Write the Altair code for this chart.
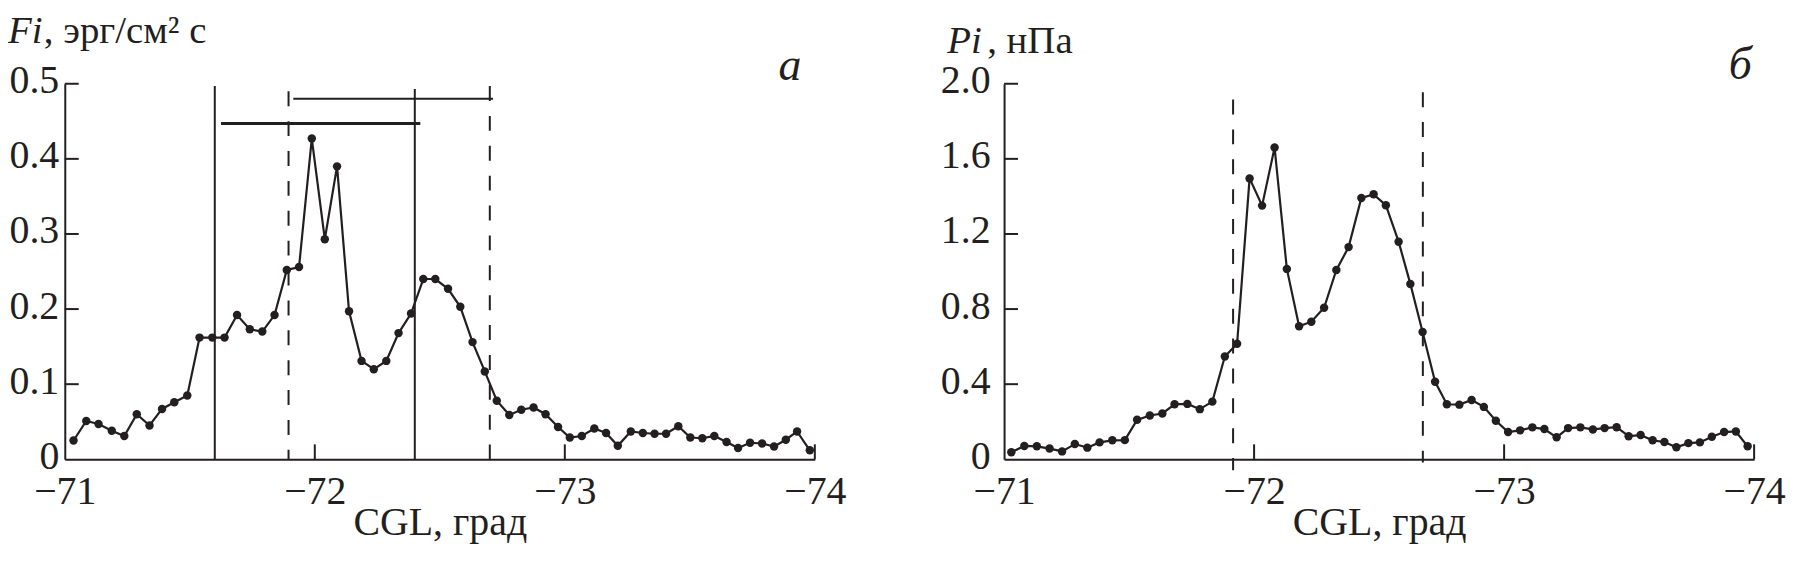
import altair as alt
import pandas as pd

# ---------------- data ----------------
fi_cgl = [-71.035, -71.086, -71.135, -71.188, -71.238, -71.288, -71.339, -71.389, -71.438, -71.490,
          -71.539, -71.590, -71.639, -71.689, -71.740, -71.790, -71.839, -71.888, -71.937, -71.988,
          -72.040, -72.089, -72.137, -72.187, -72.236, -72.286, -72.335, -72.385, -72.434, -72.482,
          -72.533, -72.582, -72.631, -72.680, -72.728, -72.778, -72.826, -72.875, -72.923, -72.973,
          -73.020, -73.068, -73.118, -73.165, -73.212, -73.264, -73.312, -73.359, -73.405, -73.454,
          -73.502, -73.550, -73.598, -73.647, -73.693, -73.741, -73.789, -73.837, -73.884, -73.929,
          -73.980]
fi_val = [0.025, 0.051, 0.047, 0.038, 0.031, 0.060, 0.045, 0.067, 0.076, 0.085,
          0.162, 0.162, 0.162, 0.192, 0.173, 0.170, 0.192, 0.252, 0.256, 0.427,
          0.293, 0.390, 0.197, 0.131, 0.120, 0.131, 0.168, 0.194, 0.240, 0.240,
          0.227, 0.203, 0.156, 0.117, 0.078, 0.059, 0.066, 0.069, 0.060, 0.043,
          0.029, 0.031, 0.041, 0.035, 0.018, 0.037, 0.035, 0.034, 0.034, 0.044,
          0.029, 0.028, 0.031, 0.023, 0.015, 0.022, 0.021, 0.017, 0.026, 0.037,
          0.012]

pi_cgl = [-71.029, -71.081, -71.131, -71.182, -71.232, -71.283, -71.333, -71.382, -71.433, -71.483,
          -71.532, -71.583, -71.633, -71.682, -71.733, -71.783, -71.833, -71.883, -71.932, -71.982,
          -72.032, -72.082, -72.131, -72.180, -72.229, -72.280, -72.329, -72.378, -72.429, -72.478,
          -72.527, -72.578, -72.625, -72.674, -72.724, -72.771, -72.821, -72.870, -72.919, -72.967,
          -73.016, -73.064, -73.113, -73.161, -73.210, -73.256, -73.305, -73.355, -73.402, -73.450,
          -73.498, -73.546, -73.594, -73.641, -73.689, -73.737, -73.783, -73.831, -73.880, -73.927,
          -73.974]
pi_val = [0.037, 0.071, 0.069, 0.057, 0.042, 0.081, 0.062, 0.090, 0.101, 0.102,
          0.210, 0.233, 0.244, 0.293, 0.295, 0.267, 0.307, 0.547, 0.615, 1.496,
          1.351, 1.660, 1.014, 0.708, 0.733, 0.807, 1.008, 1.130, 1.392, 1.411,
          1.353, 1.159, 0.934, 0.678, 0.413, 0.293, 0.291, 0.316, 0.279, 0.205,
          0.145, 0.154, 0.170, 0.161, 0.117, 0.166, 0.170, 0.159, 0.166, 0.171,
          0.123, 0.129, 0.101, 0.092, 0.064, 0.086, 0.090, 0.120, 0.145, 0.148,
          0.069]

x_ticks = [-71, -72, -73, -74]
fi_yticks = [0, 0.1, 0.2, 0.3, 0.4, 0.5]
pi_yticks = [0, 0.4, 0.8, 1.2, 1.6, 2.0]

# left panel reference lines
fi_solid_x = [-71.60, -72.40]
fi_solid_top = [0.497, 0.493]
fi_dash_x = [-71.895, -72.700]
fi_dash_top = [0.490, 0.497]
fi_thick_x1, fi_thick_x2, fi_thick_y = -71.625, -72.422, 0.447
fi_thin_x1, fi_thin_x2, fi_thin_y = -71.914, -72.713, 0.480

# right panel reference lines
pi_dash_x = [-71.916, -72.675]
pi_dash_top = [1.916, 1.955]
pi_dash_bottom = [-0.058, -0.017]

# texts
fi_title_it, fi_title_rest = "Fi", ", эрг/см² с"
pi_title_it, pi_title_rest = "Pi", ", нПа"
x_title = "CGL, град"
fi_letter, pi_letter = "а", "б"

# ---------------- styling ----------------
INK = "#231f20"
FONT = "Liberation Serif"
W, H = 753, 377


def panel(cgl, val, ymax, yticks, title_it, title_rest, it_w, title_y, letter,
          letter_x, letter_y, label_pad, extra_layers):
    df = pd.DataFrame({"cgl": cgl, "v": val})
    xs = alt.Scale(domain=[-74, -71], reverse=True, nice=False, zero=False)
    ys = alt.Scale(domain=[0, ymax], nice=False, zero=False)
    xa = alt.Axis(values=x_ticks, format="d", title=x_title, grid=False,
                  ticks=False, tickSize=0, domainColor=INK, domainWidth=2,
                  labelFont=FONT, labelFontSize=40, labelColor=INK,
                  labelFlush=False, labelOverlap=False, labelPadding=44,
                  labelBaseline="alphabetic",
                  titleFont=FONT, titleFontSize=40, titleColor=INK,
                  titleFontWeight="normal", titleBaseline="alphabetic",
                  titleY=76)
    ya = alt.Axis(values=yticks, title=None, grid=False, ticks=False, tickSize=0,
                  domainColor=INK, domainWidth=2,
                  labelExpr="datum.value == 0 ? '0' : format(datum.value, '.1f')",
                  labelFont=FONT, labelFontSize=40, labelColor=INK, labelOffset=-3,
                  labelPadding=label_pad, labelOverlap=False, labelFlush=False)

    def X(f):
        return alt.X(f, scale=xs, axis=xa, title=x_title)

    def Y(f):
        return alt.Y(f, scale=ys, axis=ya, title=None)

    base = alt.Chart(df)
    line = base.mark_line(color=INK, strokeWidth=2.2).encode(x=X("cgl:Q"), y=Y("v:Q"))
    pts = base.mark_circle(size=72, opacity=1, color=INK).encode(x=X("cgl:Q"), y=Y("v:Q"))

    ytk = alt.Chart(pd.DataFrame({"t": yticks[1:]})).mark_rule(color=INK, strokeWidth=2).encode(
        y=Y("t:Q"), x=alt.value(0), x2=alt.value(14))
    xtk = alt.Chart(pd.DataFrame({"t": x_ticks[1:]})).mark_rule(color=INK, strokeWidth=2).encode(
        x=X("t:Q"), y=alt.value(H), y2=alt.value(H - 15))

    t1 = alt.Chart(pd.DataFrame({"s": [title_it]})).mark_text(
        font=FONT, fontSize=39, fontStyle="italic", color=INK, align="left",
        baseline="alphabetic").encode(text="s:N", x=alt.value(-57), y=alt.value(title_y))
    t2 = alt.Chart(pd.DataFrame({"s": [title_rest]})).mark_text(
        font=FONT, fontSize=39, color=INK, align="left",
        baseline="alphabetic").encode(text="s:N", x=alt.value(-57 + it_w), y=alt.value(title_y))
    lt = alt.Chart(pd.DataFrame({"s": [letter]})).mark_text(
        font=FONT, fontSize=46, fontStyle="italic", color=INK, align="center",
        baseline="alphabetic").encode(text="s:N", x=alt.value(letter_x), y=alt.value(letter_y))

    layers = [line] + [l(X, Y) for l in extra_layers] + [pts, ytk, xtk, t1, t2, lt]
    return alt.layer(*layers).properties(width=W, height=H)


def fi_extras():
    def solid(X, Y):
        d = pd.DataFrame({"x": fi_solid_x, "top": fi_solid_top, "bot": [0, 0]})
        return alt.Chart(d).mark_rule(color=INK, strokeWidth=2).encode(
            x=X("x:Q"), y=Y("top:Q"), y2="bot:Q")

    def dashed(X, Y):
        d = pd.DataFrame({"x": fi_dash_x, "top": fi_dash_top, "bot": [0, 0]})
        return alt.Chart(d).mark_rule(color=INK, strokeWidth=2, strokeDash=[15, 15]).encode(
            x=X("x:Q"), y=Y("top:Q"), y2="bot:Q")

    def thick(X, Y):
        d = pd.DataFrame({"x1": [fi_thick_x1], "x2": [fi_thick_x2], "y": [fi_thick_y]})
        return alt.Chart(d).mark_rule(color=INK, strokeWidth=3).encode(
            x=X("x1:Q"), x2="x2:Q", y=Y("y:Q"))

    def thin(X, Y):
        d = pd.DataFrame({"x1": [fi_thin_x1], "x2": [fi_thin_x2], "y": [fi_thin_y]})
        return alt.Chart(d).mark_rule(color=INK, strokeWidth=2).encode(
            x=X("x1:Q"), x2="x2:Q", y=Y("y:Q"))

    return [solid, dashed, thick, thin]


def pi_extras():
    def dashed(X, Y):
        d = pd.DataFrame({"x": pi_dash_x, "top": pi_dash_top, "bot": pi_dash_bottom})
        return alt.Chart(d).mark_rule(color=INK, strokeWidth=2, strokeDash=[15, 15]).encode(
            x=X("x:Q"), y=Y("top:Q"), y2="bot:Q")
    return [dashed]


left = panel(fi_cgl, fi_val, 0.5, fi_yticks, fi_title_it, fi_title_rest, 36, -41,
             fi_letter, 728, -4, 6, fi_extras())
right = panel(pi_cgl, pi_val, 2.0, pi_yticks, pi_title_it, pi_title_rest, 40, -31,
              pi_letter, 739, -5, 14, pi_extras())

chart = alt.hconcat(left, right, spacing=190, bounds="flush").properties(
    padding={"left": 0, "top": 3, "right": 0, "bottom": 0}
).configure(background="white").configure_view(stroke=None).configure_axis(
    labelFont=FONT, titleFont=FONT
).configure_text(font=FONT)

chart.save("out.html", embed_options={"renderer": "svg", "actions": False})
